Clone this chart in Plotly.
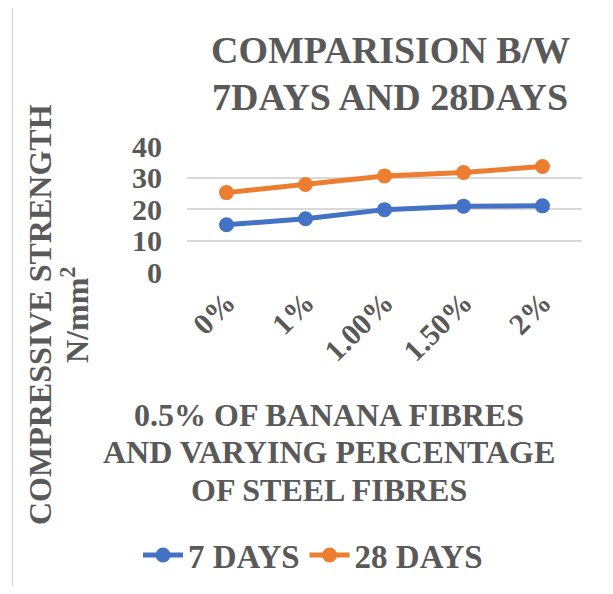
import plotly.graph_objects as go

categories = ["0%", "1%", "1.00%", "1.50%", "2%"]
days7 = [15.0, 16.9, 19.8, 20.9, 21.0]
days28 = [25.2, 27.8, 30.5, 31.6, 33.5]
y_ticks = [0, 10, 20, 30, 40]
title_lines = ["COMPARISION B/W", "7DAYS AND 28DAYS"]
xtitle_lines = ["0.5% OF BANANA FIBRES", "AND VARYING PERCENTAGE", "OF STEEL FIBRES"]
ytitle_lines = ["COMPRESSIVE STRENGTH", "N/mm<sup>2</sup>"]

OFF = 8  # default page body margin
W, H = 613 - OFF, 594 - 2 * OFF
# target plot area in screen pixels
SX0, SX1, SY0, SY1 = 187, 582, 146, 272
L, T = SX0 - OFF, SY0 - OFF
R = W - (SX1 - OFF)
B = H - (SY1 - OFF)
PW, PH = W - L - R, H - T - B

def xp(px):
    return (px - SX0) / PW

def yp(py):
    return (SY1 - py) / PH

TXT = "#595959"
FONT = "Liberation Serif"

fig = go.Figure()
fig.add_trace(go.Scatter(x=categories, y=days7, name="7 DAYS", mode="lines+markers",
                         line=dict(color="#4472C4", width=5),
                         marker=dict(size=15, color="#4472C4")))
fig.add_trace(go.Scatter(x=categories, y=days28, name="28 DAYS", mode="lines+markers",
                         line=dict(color="#ED7D31", width=5),
                         marker=dict(size=15, color="#ED7D31")))

fig.update_layout(
    width=W, height=H,
    margin=dict(l=L, r=R, t=T, b=B, autoexpand=False),
    paper_bgcolor="white", plot_bgcolor="white",
    font=dict(family=FONT, color=TXT),
    showlegend=True,
    legend=dict(orientation="h", xref="container", yref="container",
                x=(313 - OFF) / W, y=1 - (555 - OFF) / H, xanchor="center", yanchor="middle",
                font=dict(size=33, family=FONT, color=TXT, weight="bold"),
                itemwidth=40, bgcolor="rgba(0,0,0,0)"),
    xaxis=dict(type="category", range=[-0.5, 4.5], showgrid=False, zeroline=False,
               showline=False, tickangle=-45, ticks="",
               tickfont=dict(size=30, family=FONT, color=TXT, weight="bold"),
               ticklabelstandoff=6),
    yaxis=dict(range=[0, 40], tickvals=y_ticks, showgrid=True, gridcolor="#d9d9d9",
               gridwidth=1.5, zeroline=False, showline=False, ticks="",
               tickfont=dict(size=30, family=FONT, color=TXT, weight="bold"),
               ticklabelstandoff=24),
)

for txt, ypix in zip(title_lines, [50, 97]):
    fig.add_annotation(text=txt, xref="paper", yref="paper", x=xp(390), y=yp(ypix),
                       xanchor="center", yanchor="middle", showarrow=False,
                       font=dict(size=38, family=FONT, color=TXT, weight="bold"))
for txt, ypix in zip(xtitle_lines, [415, 452, 490]):
    fig.add_annotation(text=txt, xref="paper", yref="paper", x=xp(329), y=yp(ypix),
                       xanchor="center", yanchor="middle", showarrow=False,
                       font=dict(size=32, family=FONT, color=TXT, weight="bold"))
for txt, xpix in zip(ytitle_lines, [40, 75]):
    fig.add_annotation(text=txt, xref="paper", yref="paper", x=xp(xpix), y=yp(315),
                       xanchor="center", yanchor="middle", showarrow=False, textangle=-90,
                       font=dict(size=32, family=FONT, color=TXT, weight="bold"))

fig.add_shape(type="rect", xref="paper", yref="paper", x0=xp(12.5), x1=xp(608),
              y0=yp(620), y1=yp(5.5), line=dict(color="#d9d9d9", width=1.5), layer="below")

fig.write_html("out.html")
